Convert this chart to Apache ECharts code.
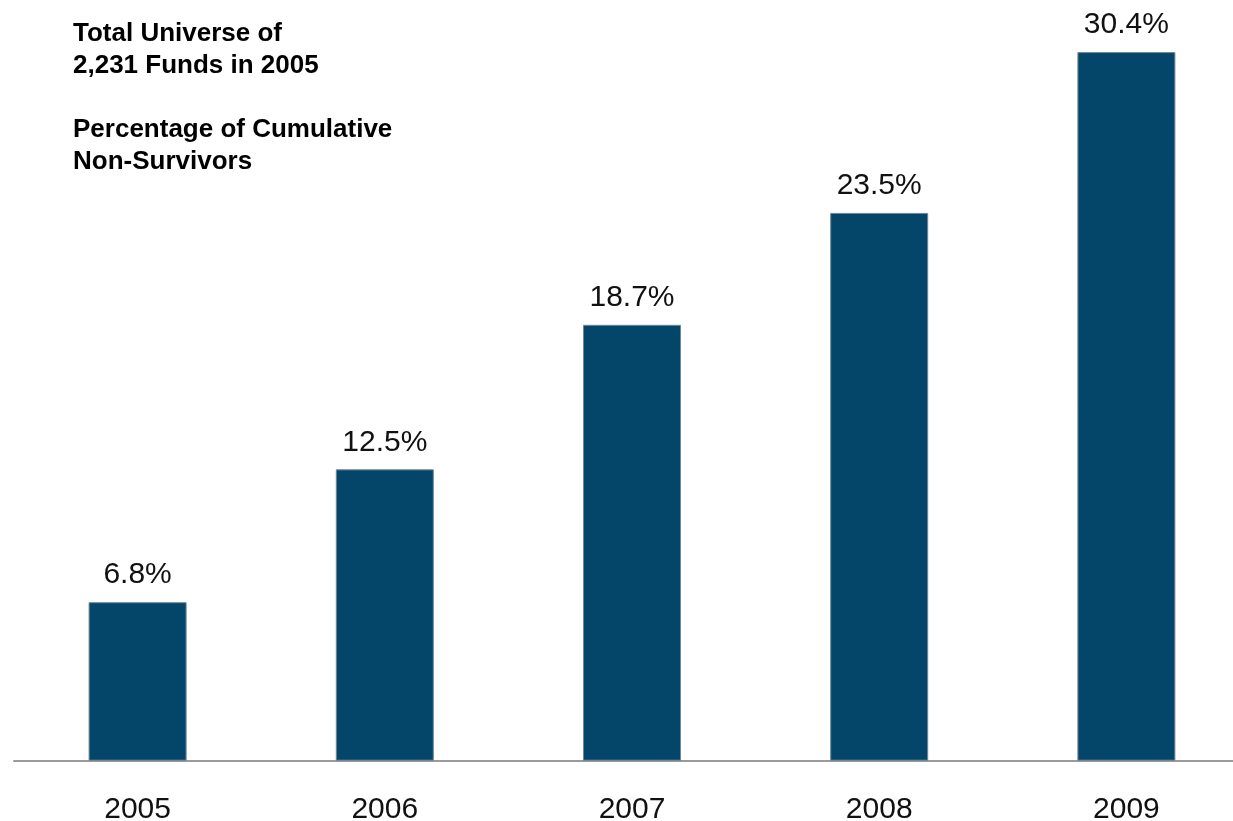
<!DOCTYPE html>
<html>
<head>
<meta charset="utf-8">
<script src="https://cdn.jsdelivr.net/npm/echarts@6/dist/echarts.min.js"></script>
<style>
html,body{margin:0;padding:0;background:#fff;}
#chart{width:1233px;height:821px;}
</style>
</head>
<body>
<div id="chart"></div>
<script>
const categories = ['2005', '2006', '2007', '2008', '2009'];
const nonSurvivorPct = [6.8, 12.5, 18.7, 23.5, 30.4];
const titleLines = ['Total Universe of', '2,231 Funds in 2005', '', 'Percentage of Cumulative', 'Non-Survivors'];

const chart = echarts.init(document.getElementById('chart'));
chart.setOption({
  backgroundColor: '#ffffff',
  animation: false,
  title: {
    text: titleLines.join('\n'),
    left: 73,
    top: 18,
    padding: 0,
    textStyle: {
      fontFamily: 'Liberation Sans, Arial, sans-serif',
      fontSize: 26,
      fontWeight: 'bold',
      color: '#000000',
      lineHeight: 32
    }
  },
  grid: { left: 14, width: 1236, top: 14.8, bottom: 60.3, containLabel: false, outerBoundsMode: 'none' },
  xAxis: {
    type: 'category',
    data: categories,
    axisLine: { show: true, lineStyle: { color: '#9a9a9a', width: 2 } },
    axisTick: { show: false },
    axisLabel: {
      margin: 34,
      fontFamily: 'Liberation Sans, Arial, sans-serif',
      fontSize: 30,
      color: '#111111'
    }
  },
  yAxis: {
    type: 'value',
    min: 0,
    max: 32,
    show: false,
    splitLine: { show: false }
  },
  series: [{
    type: 'bar',
    data: nonSurvivorPct,
    barWidth: 98,
    itemStyle: { color: '#03466a', borderColor: '#6f8798', borderWidth: 1 },
    label: {
      show: true,
      position: 'top',
      distance: 12,
      formatter: p => p.value.toFixed(1) + '%',
      fontFamily: 'Liberation Sans, Arial, sans-serif',
      fontSize: 30,
      color: '#111111'
    }
  }]
});
</script>
</body>
</html>
